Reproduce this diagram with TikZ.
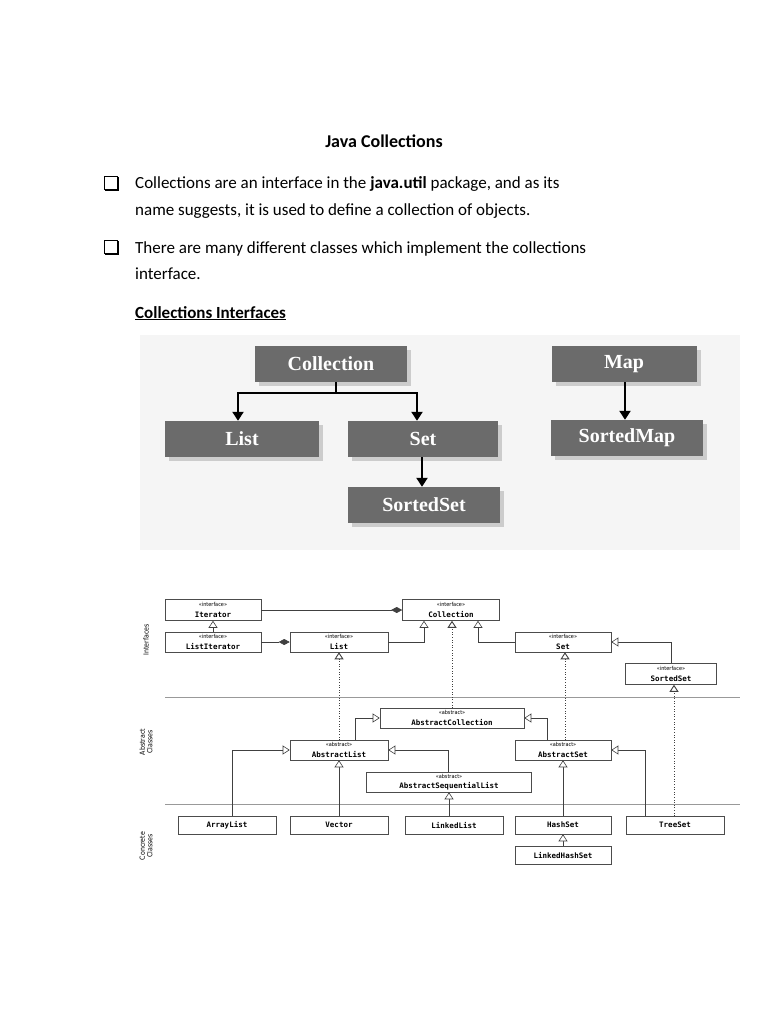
\documentclass[tikz,border=0pt]{standalone}
\usepackage{fontspec}
\setmainfont{Carlito}
\newfontfamily\boxfont{Liberation Serif}
\newfontfamily\stfont{DejaVu Sans Condensed}
\newfontfamily\nmfont{DejaVu Sans Mono}
\newfontfamily\sidefont{DejaVu Sans Condensed}
\usetikzlibrary{arrows.meta,shadows,calc}
\begin{document}
\begin{tikzpicture}[x=1pt,y=-1pt,
  txt/.style={anchor=base west,inner sep=0,font=\fontsize{17}{20}\selectfont},
  gbox/.style={fill=black!58,text=white,minimum height=36pt,inner sep=0,
    font=\boxfont\bfseries\fontsize{20}{22}\selectfont,
    drop shadow={opacity=0.35,shadow xshift=4pt,shadow yshift=-4pt}},
  bigarr/.style={line width=2.6pt,-{Triangle[length=9pt,width=11pt]}},
  uml/.style={draw=black!70,line width=0.6pt,fill=white,minimum width=96pt,minimum height=21pt,inner sep=0,align=center},
  conc/.style={uml,minimum height=18pt},
  gen/.style={draw=black!75,line width=0.6pt,-{Triangle[open,length=7pt,width=9pt,fill=white]}},
  real/.style={gen,dotted,line width=0.9pt},
  comp/.style={draw=black!75,line width=0.6pt,-{Diamond[length=11pt,width=6pt]}},
  side/.style={rotate=90,align=center,font=\sidefont\fontsize{7}{7.5}\selectfont}]
\newcommand\st[1]{{\stfont\fontsize{5.5}{6}\selectfont\guillemotleft#1\guillemotright}\\[-1.5pt]}
\newcommand\nm[1]{{\nmfont\bfseries\fontsize{7.5}{8.5}\selectfont#1}}
\useasboundingbox (0,0) rectangle (768,1024);
\fill[white] (0,0) rectangle (768,1024);

% title and text
\node[anchor=base,inner sep=0,font=\bfseries\fontsize{18}{21}\selectfont] (title) at (384,148) {Java Collections};
\foreach \yy/\nn in {183/b1,247/b2}{
  \draw[line width=0.7pt] (104,\yy-7) rectangle (117,\yy+6);
  \draw[line width=1.6pt] (118.5,\yy-6) -- (118.5,\yy+7.5) -- (105,\yy+7.5);
}
\node[txt] (l1) at (135,189) {Collections are an interface in the \textbf{java.util} package, and as its};
\node[txt] (l2) at (135,216) {name suggests, it is used to define a collection of objects.};
\node[txt] (l3) at (135,253) {There are many different classes which implement the collections};
\node[txt] (l4) at (135,279) {interface.};
\node[txt] (hd) at (135,318) {\textbf{\underline{Collections Interfaces}}};

% top diagram
\fill[black!4] (140,335) rectangle (740,550);
\node[gbox,minimum width=152pt] (C) at (331,364) {Collection};
\node[gbox,minimum width=145pt] (M) at (624,364) {Map};
\node[gbox,minimum width=154pt] (L) at (242,439) {List};
\node[gbox,minimum width=150pt] (S) at (423,439) {Set};
\node[gbox,minimum width=152pt] (SS) at (424,505) {SortedSet};
\node[gbox,minimum width=152pt] (SM) at (627,438) {SortedMap};
\coordinate (br) at (336,393);
\draw[line width=2.6pt] (C.south -| 336,0) -- (br);
\draw[line width=2.6pt] (237,393) -- (418,393);
\draw[bigarr] (238,392) -- (L.north -| 238,0);
\draw[bigarr] (417,392) -- (S.north -| 417,0);
\draw[bigarr] (S.south -| 422,0) -- (SS.north -| 422,0);
\draw[bigarr] (M.south -| 625,0) -- (SM.north -| 625,0);

% UML diagram
\draw[black!40,line width=0.6pt] (165,697) -- (740,697);
\draw[black!40,line width=0.6pt] (165,804) -- (740,804);
\node[side] (sI) at (146,640) {Interfaces};
\node[side] (sA) at (146,742) {Abstract\\Classes};
\node[side] (sC) at (146,846) {Concrete\\Classes};

\node[uml] (It) at (213,610) {\st{interface}\nm{Iterator}};
\node[uml,minimum width=97pt] (Co) at (451,610) {\st{interface}\nm{Collection}};
\node[uml,minimum height=20pt] (LI) at (213,642) {\st{interface}\nm{ListIterator}};
\node[uml,minimum width=98pt,minimum height=20pt] (Li) at (339,642) {\st{interface}\nm{List}};
\node[uml,minimum height=20pt] (Se) at (563,642) {\st{interface}\nm{Set}};
\node[uml,minimum width=91pt] (SSe) at (671,674) {\st{interface}\nm{SortedSet}};
\node[uml,minimum width=144pt,minimum height=20pt] (AC) at (452,718) {\st{abstract}\nm{AbstractCollection}};
\node[uml,minimum width=98pt,minimum height=20pt] (AL) at (339,750) {\st{abstract}\nm{AbstractList}};
\node[uml,minimum height=20pt] (AS) at (563,750) {\st{abstract}\nm{AbstractSet}};
\node[uml,minimum width=165pt,minimum height=20pt] (ASL) at (449,782) {\st{abstract}\nm{AbstractSequentialList}};
\node[conc,minimum width=98pt] (AR) at (227,825) {\nm{ArrayList}};
\node[conc,minimum width=98pt] (Ve) at (339,825) {\nm{Vector}};
\node[conc,minimum width=98pt] (LL) at (454,825) {\nm{LinkedList}};
\node[conc] (HS) at (563,825) {\nm{HashSet}};
\node[conc,minimum width=98pt] (TS) at (675,825) {\nm{TreeSet}};
\node[conc] (LHS) at (563,855) {\nm{LinkedHashSet}};

\draw[comp] (It.east) -- (Co.west);
\draw[comp] (LI.east) -- (Li.west);
\draw[gen] (LI.north) -- (It.south);
\draw[gen] (Li.east) -| (424,0 |- Co.south);
\draw[gen] (Se.west) -| (478,0 |- Co.south);
\draw[gen] (SSe.north) |- (Se.east);
\draw[real] (AC.north) -- (452,0 |- Co.south);
\draw[real] (AL.north) -- (Li.south);
\draw[real] (565,0 |- AS.north) -- (565,0 |- Se.south);
\draw[real] (674,0 |- TS.north) -- (674,0 |- SSe.south);
\draw[gen] (355,0 |- AL.north) |- (AC.west);
\draw[gen] (547,0 |- AS.north) |- (AC.east);
\draw[gen] (232,0 |- AR.north) |- (AL.west);
\draw[gen] (Ve.north) -- (Ve.north |- AL.south);
\draw[gen] (448,0 |- ASL.north) |- (AL.east);
\draw[gen] (LL.north -| ASL.south) -- (ASL.south);
\draw[gen] (HS.north) -- (AS.south);
\draw[gen] (LHS.north) -- (HS.south);
\draw[gen] (645,0 |- TS.north) |- (AS.east);
\end{tikzpicture}
\end{document}
